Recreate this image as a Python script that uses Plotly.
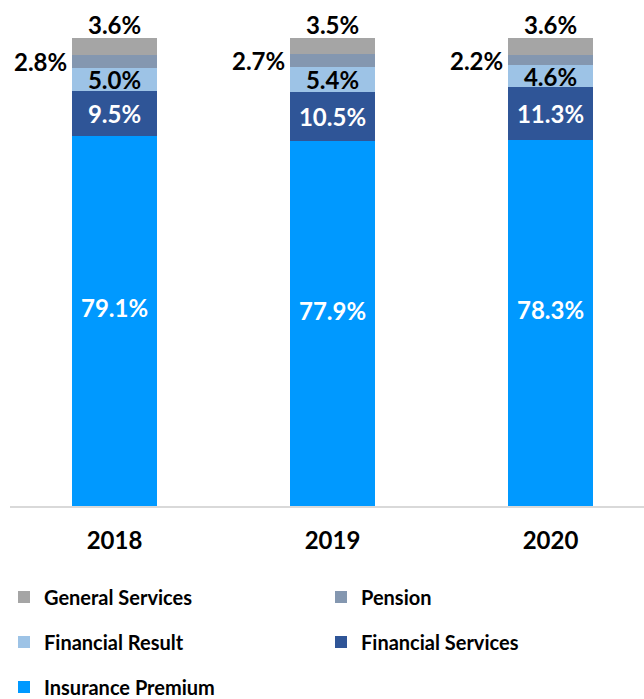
import plotly.graph_objects as go

years = ["2018", "2019", "2020"]
insurance_premium = [79.1, 77.9, 78.3]
financial_services = [9.5, 10.5, 11.3]
financial_result = [5.0, 5.4, 4.6]
pension = [2.8, 2.7, 2.2]
general_services = [3.6, 3.5, 3.6]

colors = {
    "Insurance Premium": "#0099FF",
    "Financial Services": "#2F5597",
    "Financial Result": "#9DC3E6",
    "Pension": "#8497B0",
    "General Services": "#A5A5A5",
}

FONT = "Lato, 'Open Sans', sans-serif"
W, H = 644, 699
BAR_W = 0.394
LABEL_SIZE = 24

fig = go.Figure()


def add_bar(name, values, text_color=None, show_text=True, legend="legend"):
    fig.add_trace(go.Bar(
        x=years, y=values, name=name, width=BAR_W,
        marker=dict(color=colors[name], line=dict(width=0)),
        texttemplate="%{y:.1f}%" if show_text else None,
        textposition="inside" if show_text else "none",
        insidetextanchor="middle",
        textfont=dict(family=FONT, size=LABEL_SIZE, weight=700,
                      color=text_color or "black"),
        legend=legend,
        hoverinfo="skip",
    ))


add_bar("Insurance Premium", insurance_premium, show_text=False, legend="legend3")
add_bar("Financial Services", financial_services, "white", legend="legend2")
add_bar("Financial Result", financial_result, "black", legend="legend2")
add_bar("Pension", pension, show_text=False, legend="legend")
add_bar("General Services", general_services, show_text=False, legend="legend")


def label(i, y, text, color="black", **kw):
    fig.add_annotation(
        x=i, y=y, text=text, showarrow=False,
        font=dict(family=FONT, size=LABEL_SIZE, weight=700, color=color),
        **kw,
    )


for i in range(len(years)):
    # Insurance Premium value, set a little above the segment centre
    label(i, insurance_premium[i] / 2, f"{insurance_premium[i]:.1f}%",
          color="white", yanchor="middle", yshift=13)
    # Pension value sits to the left of the bar
    base = insurance_premium[i] + financial_services[i] + financial_result[i]
    label(i, base + pension[i] / 2, f"{pension[i]:.1f}%",
          xanchor="right", yanchor="middle", xshift=-46)
    # General Services value sits above the bar
    top = round(base + pension[i] + general_services[i], 6)
    label(i, top, f"{general_services[i]:.1f}%", yanchor="bottom", yshift=-3)

legend_common = dict(
    orientation="h", xref="container", yref="container",
    xanchor="left", yanchor="middle", traceorder="reversed",
    font=dict(family=FONT, size=20, weight=700, color="black"),
    entrywidth=272, entrywidthmode="pixels",
    bgcolor="rgba(0,0,0,0)", itemclick=False, itemdoubleclick=False,
)

fig.update_layout(
    width=W, height=H,
    margin=dict(l=10, r=0, t=38, b=193),
    paper_bgcolor="white", plot_bgcolor="white",
    barmode="stack", bargap=0,
    uniformtext=dict(minsize=LABEL_SIZE, mode="show"),
    showlegend=True,
    legend=dict(legend_common, x=4 / W, y=1 - 597 / H),
    legend2=dict(legend_common, x=4 / W, y=1 - 642 / H),
    legend3=dict(legend_common, x=4 / W, y=1 - 687 / H),
    xaxis=dict(
        type="category", range=[-0.4794, 2.4289],
        showgrid=False, zeroline=False,
        showline=True, linecolor="#D9D9D9", linewidth=1.5,
        ticks="", ticklabelstandoff=12,
        tickfont=dict(family=FONT, size=24, weight=700, color="black"),
    ),
    yaxis=dict(range=[0, 100], visible=False, showgrid=False),
)

fig.write_html("out.html")
